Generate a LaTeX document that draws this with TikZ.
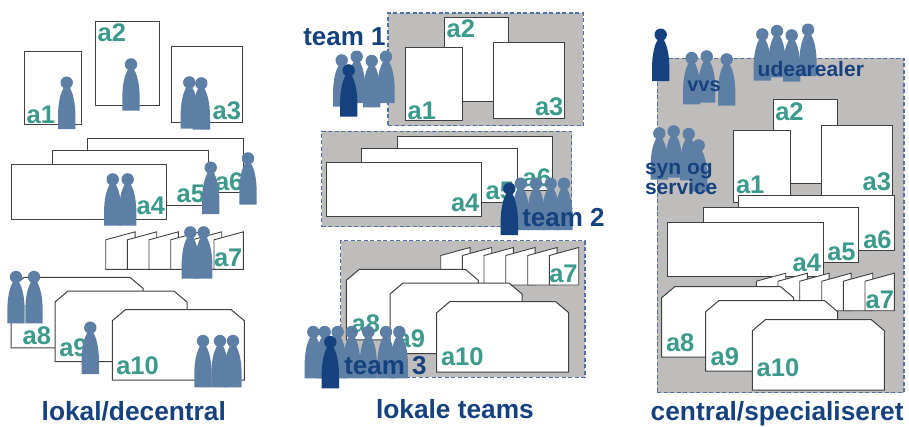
\documentclass[tikz,border=0pt]{standalone}
\usepackage{fontspec}
\setmainfont{Liberation Sans}
\usepackage{tikz}
\definecolor{labelgreen}{HTML}{3B9A8B}
\definecolor{staffblue}{HTML}{5E7FA5}
\definecolor{leadblue}{HTML}{15417F}
\definecolor{teamgrey}{HTML}{BFBDBC}
\definecolor{dashblue}{HTML}{4F71A8}
\definecolor{roomedge}{HTML}{404040}
\tikzset{
	person/.pic={
		\fill (-8.7,0) -- (-8.7,-12) .. controls (-8.7,-27) and (-6,-37) .. (-2.5,-42) -- (2.5,-42) .. controls (6,-37) and (8.7,-27) .. (8.7,-12) -- (8.7,0) -- cycle;
		\fill (0,-46.3) circle (6.2);
	},
	chamfer/.pic={
		\draw[fill=white,draw=roomedge,line width=1pt] (0,11) -- (13,0) -- (119,0) -- (132,11) -- (132,70.5) -- (0,70.5) -- cycle;
	},
	tabroom/.pic={
		\draw[fill=white,draw=roomedge,line width=0.9pt] (0,0) -- (0,-29.5) -- (29.4,-37.5) -- (29.4,0) -- cycle;
	}
}
\begin{document}
\begin{tikzpicture}[x=1pt,y=-1pt]
	\tikzstyle{every node}=[inner sep=0pt,outer sep=0pt]
	\tikzstyle{room}=[draw=roomedge,fill=white,line width=1pt,anchor=north west]
	\tikzstyle{rooma1}=[room,minimum width=57pt,minimum height=72.3pt]
	\tikzstyle{rooma2}=[room,minimum width=64pt,minimum height=84pt]
	\tikzstyle{rooma3}=[room,minimum width=70.7pt,minimum height=76pt]
	\tikzstyle{roomwide}=[room,minimum width=155.5pt,minimum height=54.8pt]
	\tikzstyle{team}=[draw=dashblue,dash pattern=on 4pt off 2.5pt,fill=teamgrey,line width=1.1pt,anchor=north west]
	\tikzstyle{arealabel}=[anchor=base west,text=labelgreen,font=\fontsize{25.5}{25.5}\selectfont\bfseries]
	\tikzstyle{teamlabel}=[anchor=base west,text=leadblue,font=\fontsize{26}{26}\selectfont\bfseries]
	\tikzstyle{tasklabel}=[anchor=base west,text=leadblue,font=\fontsize{21}{21}\selectfont\bfseries]
	\tikzstyle{title}=[anchor=base west,text=leadblue,font=\fontsize{26.3}{26.3}\selectfont\bfseries]
	\useasboundingbox (0,0) rectangle (909,426);

	\node[rooma1] (lokalA) at (24.3,51.7) {};
	\node[rooma2] (lokalB) at (95.7,21.3) {};
	\node[rooma3] (lokalC) at (171.3,46.7) {};
	\node[roomwide] (lokalF) at (87.7,138) {};
	\node[roomwide] (lokalE) at (52.7,150.3) {};
	\node[roomwide] (lokalD) at (11.3,164.3) {};
	\foreach \x in {105.7,127.3,149,170.7,192.3,214}
		\pic at (\x,269.3) {tabroom};
	\pic at (11,277.3) {chamfer};
	\pic at (55,291) {chamfer};
	\pic at (112.3,309.7) {chamfer};

	\node[team,minimum width=195.3pt,minimum height=112.7pt] (teamA) at (388,13) {};
	\node[rooma2] (teamAb) at (444.7,17.3) {};
	\node[rooma1] (teamAa) at (405.3,47.7) {};
	\node[rooma3] (teamAc) at (493.7,42.7) {};
	\node[team,minimum width=250pt,minimum height=95.4pt] (teamB) at (321.7,131.3) {};
	\node[roomwide] (teamBf) at (397.3,136) {};
	\node[roomwide] (teamBe) at (361.7,148) {};
	\node[roomwide] (teamBd) at (326,162) {};
	\node[team,minimum width=244.3pt,minimum height=136.6pt] (teamC) at (340.7,240.7) {};
	\foreach \x in {440.7,462.3,484,505.7,527.7,549.3}
		\pic at (\x,285) {tabroom};
	\pic at (346.3,269.3) {chamfer};
	\pic at (390,283) {chamfer};
	\pic at (436.7,301.7) {chamfer};

	\node[team,minimum width=246.7pt,minimum height=334.4pt] (central) at (657.3,58.3) {};
	\node[rooma2] (centralB) at (773.3,99.7) {};
	\node[rooma1] (centralA) at (733.3,130.3) {};
	\node[rooma3] (centralC) at (821.7,125.3) {};
	\node[roomwide] (centralF) at (738.7,195.7) {};
	\node[roomwide] (centralE) at (703.3,207.7) {};
	\node[roomwide] (centralD) at (667.7,222) {};
	\foreach \x in {756.3,778,799.7,821.7,843.3,865}
		\pic at (\x,310.7) {tabroom};
	\pic at (661.7,286.7) {chamfer};
	\pic at (705.7,300.7) {chamfer};
	\pic at (752.3,319.7) {chamfer};

	\node[arealabel] (lokalLa) at (26.7,123) {a1};
	\node[arealabel] (lokalLb) at (97.7,41.7) {a2};
	\node[arealabel] (lokalLc) at (212.7,119.3) {a3};
	\node[arealabel] (lokalLd) at (136.7,214.3) {a4};
	\node[arealabel] (lokalLe) at (176.7,202) {a5};
	\node[arealabel] (lokalLf) at (215,190) {a6};
	\node[arealabel] (lokalLg) at (214,266.7) {a7};
	\node[arealabel] (lokalLh) at (22.7,344.3) {a8};
	\node[arealabel] (lokalLi) at (59.3,356) {a9};
	\node[arealabel] (lokalLj) at (116.3,374) {a10};

	\node[arealabel] (teamLa) at (407.7,119.3) {a1};
	\node[arealabel] (teamLb) at (446.7,37.7) {a2};
	\node[arealabel] (teamLc) at (535,115) {a3};
	\node[arealabel] (teamLd) at (451,211.7) {a4};
	\node[arealabel] (teamLe) at (485.7,199.3) {a5};
	\node[arealabel] (teamLf) at (522.7,186.7) {a6};
	\node[arealabel] (teamLg) at (549.3,282.7) {a7};
	\node[arealabel] (teamLh) at (351.7,332.7) {a8};
	\node[arealabel] (teamLi) at (396.7,347.7) {a9};
	\node[arealabel] (teamLj) at (441,365.7) {a10};

	\node[arealabel] (centralLa) at (736,193.3) {a1};
	\node[arealabel] (centralLb) at (775.3,120.7) {a2};
	\node[arealabel] (centralLc) at (862.7,190) {a3};
	\node[arealabel] (centralLd) at (792.7,271.7) {a4};
	\node[arealabel] (centralLe) at (827.3,260) {a5};
	\node[arealabel] (centralLf) at (863.3,248.3) {a6};
	\node[arealabel] (centralLg) at (865.7,308) {a7};
	\node[arealabel] (centralLh) at (666,351) {a8};
	\node[arealabel] (centralLi) at (710.7,365) {a9};
	\node[arealabel] (centralLj) at (756.7,376.7) {a10};

	\foreach \x/\y in {66.7/129,131/110.7,189.3/128.7,201.3/129.7,112.7/225.7,127.7/225.7,210.7/214,248/204.7,190.3/278.7,203.7/278.7,16/323.3,34/323.3,90.3/374,203/387.3,220/387.3,233/387.3}
		\pic[fill=staffblue] at (\x,\y) {person};
	\foreach \x/\y in {341.7/106.7,356.7/103,371.7/107.3,386/103,520.7/230,536/230,550.7/230,564/230,313.3/378.3,324.7/378.3,337.7/378.3,351.7/378.3,368.3/378.3,386/378.3,399.3/378.3}
		\pic[fill=staffblue] at (\x,\y) {person};
	\foreach \x/\y in {691.7/104.3,706.7/102.7,726.7/105.7,762.3/80.7,777/77.3,791.7/81.7,808/76,659.3/179.7,673.7/177.7,688.7/180.3,698.7/191.7}
		\pic[fill=staffblue] at (\x,\y) {person};
	\foreach \x/\y in {348.7/116.7,509.3/235,330.3/388.3,660.7/81}
		\pic[fill=leadblue] at (\x,\y) {person};

	\node[teamlabel] (teamone) at (303.3,45.3) {team 1};
	\node[teamlabel] (teamtwo) at (522.3,226.7) {team 2};
	\node[teamlabel] (teamthree) at (344.3,374) {team 3};
	\node[tasklabel,font=\fontsize{20}{20}\selectfont\bfseries] (vvs) at (687.3,91.7) {vvs};
	\node[tasklabel] (udearealer) at (757.7,76.7) {udearealer};
	\node[tasklabel] (synog) at (645,174) {syn og};
	\node[tasklabel] (service) at (645,194) {service};

	\node[title] (lokal) at (41.7,420) {lokal/decentral};
	\node[title] (lokale) at (376,418.7) {lokale teams};
	\node[title] (specialist) at (650.7,420) {central/specialiseret};
\end{tikzpicture}
\end{document}
